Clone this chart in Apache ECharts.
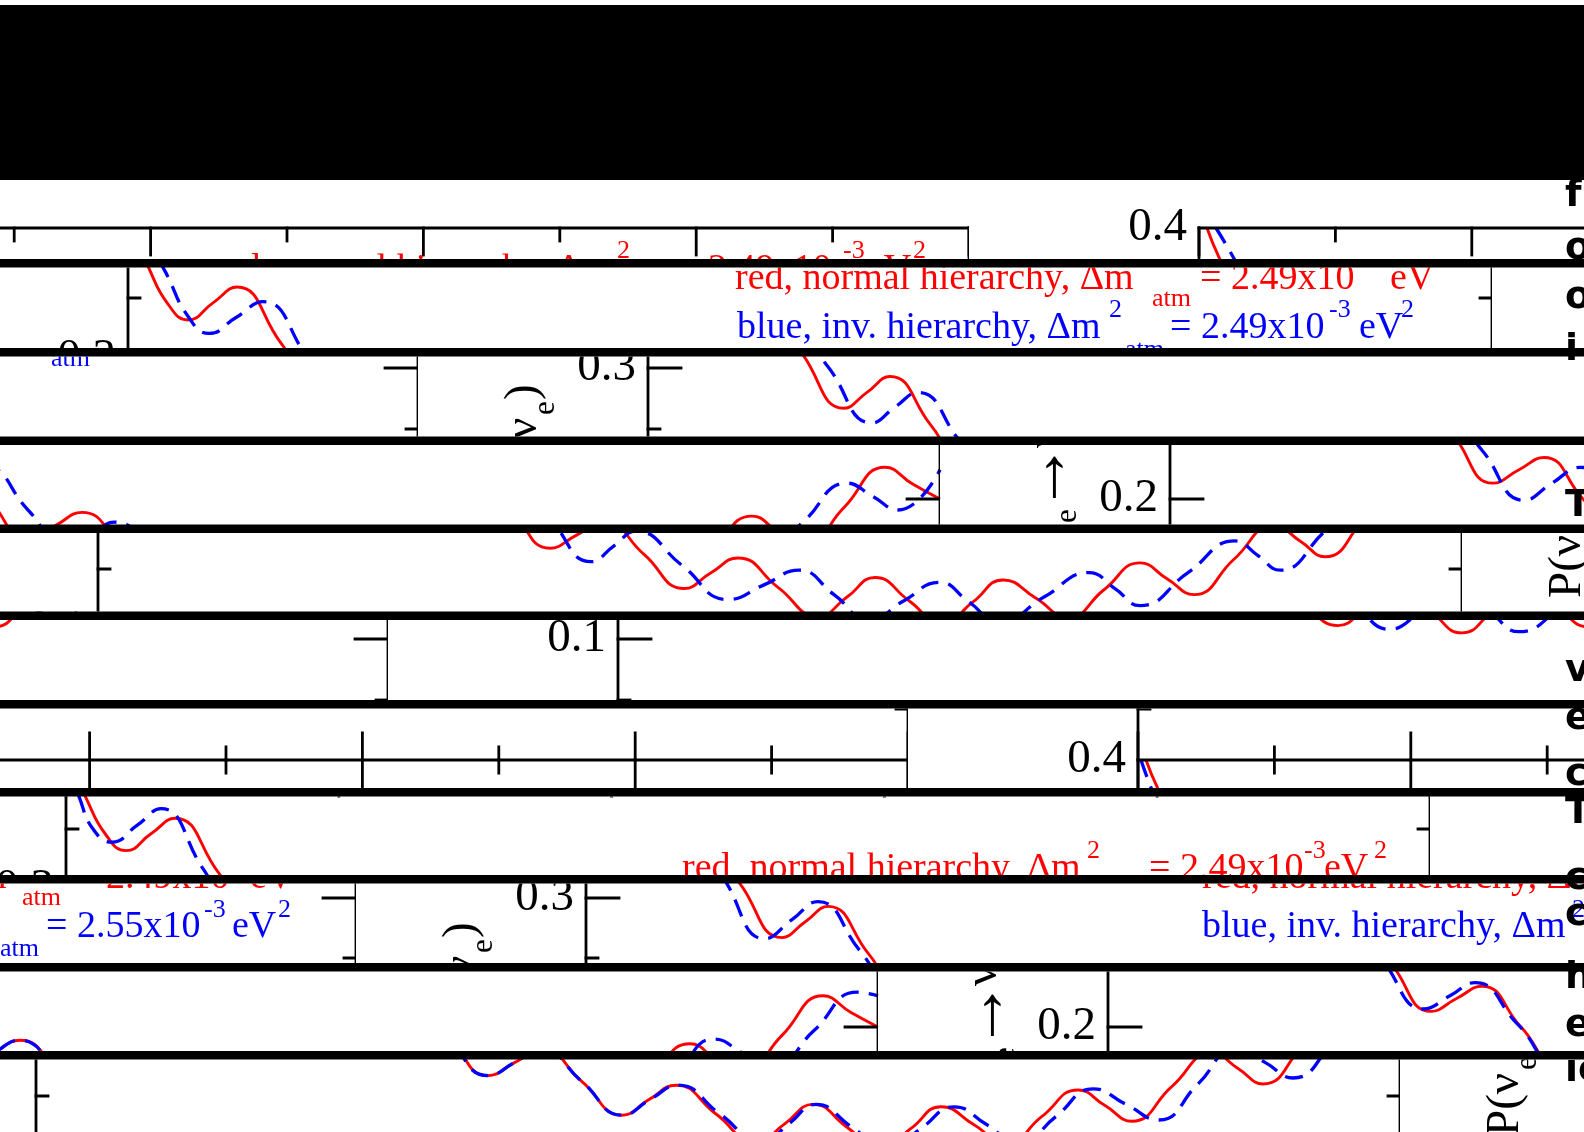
<!DOCTYPE html>
<html><head><meta charset="utf-8">
<script src="https://cdn.jsdelivr.net/npm/echarts@6/dist/echarts.min.js"></script>
<style>html,body{margin:0;padding:0;background:#fff}#c{width:1584px;height:1132px}</style>
</head><body><div id="c"></div>
<script>
// ===== DATA =====
// x: position along the horizontal axis (plot units 0..1364, axis ticks every 136.4), y: P(nu_e -> nu_e)
const redNH_249 = [[8,0.400],[20,0.376],[40,0.345],[60,0.332],[85,0.346],[109,0.359],[153,0.313],[196,0.267],[219,0.280],[242,0.293],[283,0.253],[323,0.213],[349,0.224],[374,0.234],[413,0.200],[452,0.167],[479,0.178],[506,0.189],[546,0.162],[586,0.134],[613,0.147],[640,0.159],[680,0.135],[720,0.111],[749,0.127],[777,0.143],[811,0.124],[844,0.105],[875,0.123],[905,0.141],[938,0.126],[970,0.110],[1006,0.133],[1042,0.155],[1069,0.142],[1096,0.129],[1136,0.158],[1176,0.186],[1202,0.173],[1227,0.160],[1268,0.193],[1309,0.226],[1337,0.212],[1364,0.200]];
const blueIH_249 = [[17,0.400],[37,0.372],[60,0.335],[81,0.321],[108,0.334],[135,0.347],[180,0.301],[224,0.255],[247,0.268],[270,0.280],[312,0.240],[354,0.199],[382,0.213],[410,0.226],[452,0.191],[493,0.156],[516,0.169],[538,0.181],[584,0.153],[630,0.125],[666,0.137],[701,0.149],[736,0.129],[771,0.108],[806,0.124],[841,0.139],[871,0.123],[901,0.106],[946,0.127],[991,0.147],[1017,0.134],[1042,0.120],[1090,0.147],[1137,0.173],[1160,0.161],[1182,0.149],[1227,0.181],[1271,0.213],[1297,0.202],[1322,0.191],[1364,0.224]];
const blueIH_255 = [[3,0.400],[13,0.377],[27,0.350],[46,0.339],[71,0.353],[95,0.367],[137,0.317],[179,0.266],[206,0.282],[232,0.297],[274,0.256],[316,0.215],[342,0.226],[367,0.237],[410,0.202],[452,0.167],[479,0.178],[505,0.189],[546,0.162],[586,0.134],[614,0.147],[642,0.159],[684,0.135],[726,0.111],[753,0.127],[780,0.143],[816,0.124],[852,0.105],[885,0.123],[918,0.141],[951,0.126],[983,0.110],[1020,0.133],[1057,0.156],[1090,0.143],[1123,0.130],[1162,0.160],[1200,0.190],[1229,0.178],[1257,0.165],[1300,0.197],[1343,0.229],[1364,0.226]];
const yTickValues = [0.35,0.30,0.25,0.20,0.15,0.10,0.05];
const yMajorValues = [0.40,0.30,0.20,0.10];
const yTickLabels = ['0.4','0.3','0.2','0.1'];
const xTickCount = 10;
const legendTopRed = ['red, normal hierarchy, \u0394m','2','atm','= 2.49x10','-3','eV','2'];
const legendTopBlue = ['blue, inv. hierarchy, \u0394m','2','atm','= 2.49x10','-3','eV','2'];
const legendBotRed = ['red, normal hierarchy, \u0394m','2','atm','= 2.49x10','-3','eV','2'];
const legendBotBlue = ['blue, inv. hierarchy, \u0394m','2','atm','= 2.55x10','-3','eV','2'];
const titlePieces = ['P(\u03bd','e','\u2192','\u03bd','e',')'];
const sideLetters = ['f','o','o','i','T','v','e','c','T','c','c','h','e','ic'];

// ===== LAYOUT =====
const SW = 1584, W = 1594, PW = 1364, GAP = 230;
const stripTop = [180,267.5,356.5,445,533,620,708.5,796.5,883.5,971.5,1059.5];
const stripBot = [259,348,436.5,524.5,611.5,700,788,875,963,1051,1132];
const stripShift = [1199,128,648,1170,98,618,1138,66,586,1108,36];
const FY_TOP = 228, FY_MID = 706, FY_END = 1190;
const pTop = fy => 0.4 - (fy - FY_TOP) / 1220;
const pBot = fy => 0.4 - (fy - FY_MID) / 1200;
const fyTop = p => FY_TOP + (0.4 - p) * 1220;
const fyBot = p => FY_MID + (0.4 - p) * 1200;
const legendLayout = [
  {pieces: legendTopRed, color:'#ff0000', main:270, sup:251, sub:290, u:[607,1012,1024,1072,1238,1262,1308]},
  {pieces: legendTopBlue, color:'#0000ff', main:319, sup:301, sub:341, u:[609,981,997,1042,1201,1231,1273]},
  {pieces: legendBotRed, color:'#ff0000', main:806, sup:788, sub:826, u:[616,1021,1030,1083,1238,1258,1308]},
  {pieces: legendBotBlue, color:'#0000ff', main:855, sup:838, sub:877, u:[616,986,1008,1054,1212,1240,1286]}
];
const kinds = ['main','sup','sub','main','sup','main','sup'];
const sideY = [196,249,298,350,506,671,719,775,813,879,915,978,1026,1071];
const SERIF = '"Liberation Serif","Times New Roman",serif';

function decoRender(params, api) {
  const kids = [];
  const C = (u, fy) => api.coord([u, fy]);
  const ln = (u1, f1, u2, f2, w) => {
    const a = C(u1, f1), b = C(u2, f2);
    kids.push({type:'line', shape:{x1:a[0],y1:a[1],x2:b[0],y2:b[1]}, style:{stroke:'#000', lineWidth:w||2.8, lineCap:'square'}});
  };
  const tx = (s, u, fy, size, color, align) => {
    const a = C(u, fy);
    kids.push({type:'text', x:a[0], y:a[1], style:{text:s, font:size+'px '+SERIF, fill:color, align:align||'left', textAlign:align||'left', verticalAlign:'middle', textVerticalAlign:'middle'}});
  };
  ln(0, FY_TOP, PW, FY_TOP);
  ln(0, FY_MID, PW, FY_MID);
  ln(0, FY_TOP, 0, FY_END);
  ln(PW, FY_TOP, PW, FY_END);
  for (let j = 0; j <= xTickCount; j++) {
    const u = j * PW / xTickCount, len = (j % 2 === 0) ? 27 : 13;
    ln(u, FY_TOP, u, FY_TOP + len);
    ln(u, FY_MID, u, FY_MID - len);
    ln(u, FY_MID, u, FY_MID + len);
  }
  yTickValues.forEach(v => {
    const major = Math.abs(v * 10 - Math.round(v * 10)) < 1e-6;
    const len = major ? 33 : 12;
    [fyTop(v), fyBot(v)].forEach(fy => { ln(0, fy, len, fy); ln(PW - len, fy, PW, fy); });
  });
  yMajorValues.forEach((v, i) => {
    tx(yTickLabels[i], -12, fyTop(v), 47, '#000', 'right');
    tx(yTickLabels[i], -12, fyBot(v), 47, '#000', 'right');
  });
  [562, 1046].forEach(fs => {
    const o = C(-124, fs);
    const mk = (s, lx, ly, size, al) => ({type:'text', x:lx, y:ly, style:{text:s, font:size+'px '+SERIF, fill:'#000', align:al||'left', textAlign:al||'left', verticalAlign:'middle', textVerticalAlign:'middle'}});
    kids.push({type:'group', x:o[0], y:o[1], rotation:Math.PI/2, children:[
      mk(titlePieces[0], 0, 0, 47), mk(titlePieces[1], 66, 22, 31),
      mk(titlePieces[2], 112, 2, 70, 'center'), mk(titlePieces[3], 141, 0, 47),
      mk(titlePieces[4], 165, 22, 31), mk(titlePieces[5], 180, 0, 47)
    ]});
  });
  legendLayout.forEach(L => {
    L.pieces.forEach((s, i) => {
      const k = kinds[i];
      tx(s, L.u[i], L[k], k === 'main' ? 38 : 26, L.color, 'left');
    });
  });
  return {type:'group', children:kids};
}

function curve(data, color, dashed, g, yi) {
  return {type:'line', xAxisIndex:g, yAxisIndex:yi, data:data, symbol:'none', showSymbol:false,
    smooth:0.5, clip:true, silent:true, animation:false, z:2,
    lineStyle:{color:color, width:dashed?3.3:2.9, type:dashed?[18,10]:'solid', cap:'butt'}};
}

const grids = [], xAxes = [], yAxes = [], series = [];
for (let i = 0; i < stripTop.length; i++) {
  const yT = stripTop[i], yB = stripBot[i], off = 9 * i;
  const fyA = yT - off, fyB = yB - off;
  for (const k of [-1, 0, 1]) {
    const base = stripShift[i] + k * W;
    const x0 = Math.max(0, base - GAP), x1 = Math.min(SW, base + PW);
    if (x1 - x0 < 1) continue;
    const g = grids.length;
    grids.push({left:x0, top:yT, width:x1 - x0, height:yB - yT, containLabel:false, show:false});
    xAxes.push({type:'value', gridIndex:g, min:x0 - base, max:x1 - base, show:false});
    const yi = yAxes.length;
    yAxes.push({type:'value', gridIndex:g, inverse:true, min:fyA, max:fyB, show:false});
    yAxes.push({type:'value', gridIndex:g, min:pTop(fyB), max:pTop(fyA), show:false});
    yAxes.push({type:'value', gridIndex:g, min:pBot(fyB), max:pBot(fyA), show:false});
    series.push({type:'custom', xAxisIndex:g, yAxisIndex:yi, clip:true, silent:true, animation:false, z:3,
      data:[[x0 - base, fyA]], renderItem:decoRender});
    if (fyA < FY_MID && fyB > FY_TOP) {
      series.push(curve(redNH_249, '#ff0000', false, g, yi + 1));
      series.push(curve(blueIH_249, '#0000ff', true, g, yi + 1));
    }
    if (fyB > FY_MID) {
      series.push(curve(redNH_249, '#ff0000', false, g, yi + 2));
      series.push(curve(blueIH_255, '#0000ff', true, g, yi + 2));
    }
  }
}

const graphics = [{type:'rect', shape:{x:0, y:5, width:SW, height:175}, style:{fill:'#000'}, z:100}];
for (let i = 0; i < stripBot.length - 1; i++) {
  graphics.push({type:'rect', shape:{x:0, y:stripBot[i], width:SW, height:stripTop[i+1] - stripBot[i]}, style:{fill:'#000'}, z:100});
}
sideLetters.forEach((s, i) => {
  graphics.push({type:'text', x:1565, y:sideY[i], z:90, style:{text:s, font:'bold 38px "DejaVu Sans", sans-serif', fill:'#000', align:'left', textAlign:'left', verticalAlign:'middle', textVerticalAlign:'middle'}});
});

const chart = echarts.init(document.getElementById('c'), null, {renderer:'canvas'});
chart.setOption({
  backgroundColor:'#ffffff', animation:false,
  grid:grids, xAxis:xAxes, yAxis:yAxes, series:series, graphic:graphics
});
</script>
</body></html>
